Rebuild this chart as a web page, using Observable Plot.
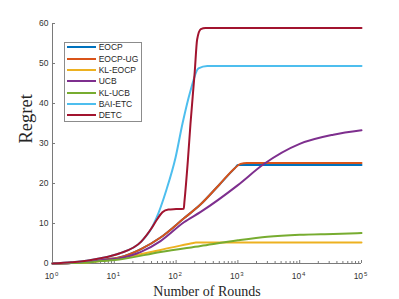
<!DOCTYPE html>
<html><head><meta charset="utf-8">
<script src="https://cdn.jsdelivr.net/npm/d3@7"></script>
<script src="https://cdn.jsdelivr.net/npm/@observablehq/plot@0.6"></script>
<style>
html,body{margin:0;padding:0;background:#fff;}
#wrap{position:relative;width:399px;height:299px;overflow:hidden;}
#legend{position:absolute;left:64px;top:42px;width:78px;height:80px;box-sizing:border-box;border:1px solid #8c8c8c;background:#fff;font-family:"Liberation Sans",Arial,sans-serif;font-size:8.5px;color:#262626;}
.item{position:absolute;left:0;height:10px;width:76px;}
.sw{position:absolute;left:2.3px;top:4px;width:28.5px;height:2px;}
.lab{position:absolute;left:33.7px;top:0;line-height:10px;white-space:nowrap;}
</style></head><body><div id="wrap"></div>
<script>
// ---- data ----
const seriesNames = ["EOCP", "EOCP-UG", "KL-EOCP", "UCB", "KL-UCB", "BAI-ETC", "DETC"];
const seriesColors = ["#0072BD", "#D95319", "#EDB120", "#7E2F8E", "#77AC30", "#4DBEEE", "#A2142F"];

const eocpRounds = [1, 2, 4, 6, 12, 27, 56, 134, 250, 500, 900, 1000, 100000];
const eocpRegret = [0, 0.15, 0.5, 0.9, 1.5, 3.6, 6.5, 11.3, 14.8, 19.7, 23.9, 24.6, 24.6];

const eocpUgRounds = [1, 2, 4, 6, 12, 27, 56, 134, 250, 500, 900, 1100, 1400, 100000];
const eocpUgRegret = [0, 0.15, 0.5, 0.9, 1.5, 3.6, 6.5, 11.3, 14.8, 19.7, 23.9, 24.9, 25.1, 25.1];

const klEocpRounds = [1, 2, 4, 6, 12, 56, 180, 209, 100000];
const klEocpRegret = [0, 0.1, 0.3, 0.6, 1.3, 3.4, 5.05, 5.25, 5.25];

const ucbRounds = [1, 2, 4, 6, 12, 27, 56, 134, 250, 1000, 2600, 10000, 35000, 100000];
const ucbRegret = [0, 0.15, 0.5, 0.8, 1.3, 2.9, 5.6, 10.3, 12.9, 19.6, 24.8, 29.9, 32.2, 33.3];

const klUcbRounds = [1, 2, 4, 6, 12, 56, 250, 1000, 3000, 10000, 35000, 100000];
const klUcbRegret = [0, 0.1, 0.3, 0.6, 1.0, 2.9, 4.4, 5.8, 6.7, 7.2, 7.4, 7.6];

const baiEtcRounds = [1, 2, 4, 6, 12, 27, 40, 47, 70, 98, 127, 171, 230, 320, 100000];
const baiEtcRegret = [0, 0.3, 0.8, 1.3, 2.5, 5.4, 8.8, 11, 18.5, 26.5, 35, 43.2, 48.8, 49.4, 49.4];

const detcRounds = [1, 2, 4, 6, 12, 27, 40, 50, 60, 75, 100, 133, 136, 155, 171, 200, 219, 251, 300, 100000];
const detcRegret = [0, 0.3, 0.8, 1.3, 2.5, 5.4, 8.8, 11.2, 12.8, 13.5, 13.6, 13.7, 15.2, 25.7, 35, 47.8, 56, 58.6, 58.9, 58.9];

const yTicks = [0, 10, 20, 30, 40, 50, 60];
const xMajor = [1, 10, 100, 1000, 10000, 100000];
const xExponents = ["0", "1", "2", "3", "4", "5"];
const xLabel = "Number of Rounds";
const yLabel = "Regret";

// ---- build ----
const allRounds = [eocpRounds, eocpUgRounds, klEocpRounds, ucbRounds, klUcbRounds, baiEtcRounds, detcRounds];
const allRegret = [eocpRegret, eocpUgRegret, klEocpRegret, ucbRegret, klUcbRegret, baiEtcRegret, detcRegret];

const xMinor = [];
for (let d = 1; d < 100000; d *= 10) for (let k = 2; k <= 9; k++) xMinor.push(d * k);

const W = 399, H = 299, mL = 52, mR = 38, mT = 23, mB = 36;
const fw = W - mL - mR, fh = H - mT - mB;
const axisColor = "#7a7a7a", labelColor = "#333333";
const serif = "'Liberation Serif','Times New Roman',serif";

const lineMarks = seriesNames.map((name, i) =>
  Plot.line(allRounds[i].map((r, j) => ({r, v: allRegret[i][j], name})), {
    x: "r", y: "v", stroke: seriesColors[i], strokeWidth: 2, curve: "monotone-x"
  })
);

const chart = Plot.plot({
  width: W, height: H,
  marginLeft: mL, marginRight: mR, marginTop: mT, marginBottom: mB,
  style: {fontFamily: "'Liberation Sans',Arial,sans-serif", background: "white", overflow: "visible"},
  x: {type: "log", domain: [1, 100000], axis: null},
  y: {domain: [0, 60], axis: null},
  marks: [
    Plot.ruleX([1], {stroke: axisColor, strokeWidth: 1}),
    Plot.ruleY([0], {stroke: axisColor, strokeWidth: 1}),
    Plot.tickY(yTicks, {y: d => d, insetRight: fw - 3, stroke: axisColor}),
    Plot.tickX(xMajor, {x: d => d, insetTop: fh - 3, stroke: axisColor}),
    Plot.tickX(xMinor, {x: d => d, insetTop: fh - 2, stroke: axisColor}),
    Plot.text(yTicks, {y: d => d, frameAnchor: "left", textAnchor: "end", dx: -4, fontSize: 8.5, fill: labelColor}),
    Plot.text(xMajor, {x: d => d, text: () => "10", frameAnchor: "bottom", textAnchor: "end", lineAnchor: "bottom", dx: 1.6, dy: 15.6, fontSize: 8.5, fill: labelColor}),
    Plot.text(xMajor, {x: d => d, text: (d, i) => xExponents[i], frameAnchor: "bottom", textAnchor: "start", lineAnchor: "bottom", dx: 2.4, dy: 12, fontSize: 6, fill: labelColor}),
    Plot.text([yLabel], {frameAnchor: "left", dx: -26, rotate: -90, fontFamily: serif, fontSize: 18.5, fill: "#262626"}),
    Plot.text([xLabel], {frameAnchor: "bottom", lineAnchor: "bottom", dy: 32, fontFamily: serif, fontSize: 14, fill: "#262626"}),
    ...lineMarks
  ]
});

const wrap = document.getElementById("wrap");
wrap.appendChild(chart);

const legend = document.createElement("div");
legend.id = "legend";
seriesNames.forEach((name, i) => {
  const item = document.createElement("div");
  item.className = "item";
  item.style.top = (4.3 + 11.3 * i - 5) + "px";
  const sw = document.createElement("div");
  sw.className = "sw";
  sw.style.background = seriesColors[i];
  const lab = document.createElement("div");
  lab.className = "lab";
  lab.textContent = name;
  item.appendChild(sw);
  item.appendChild(lab);
  legend.appendChild(item);
});
wrap.appendChild(legend);
</script></body></html>
